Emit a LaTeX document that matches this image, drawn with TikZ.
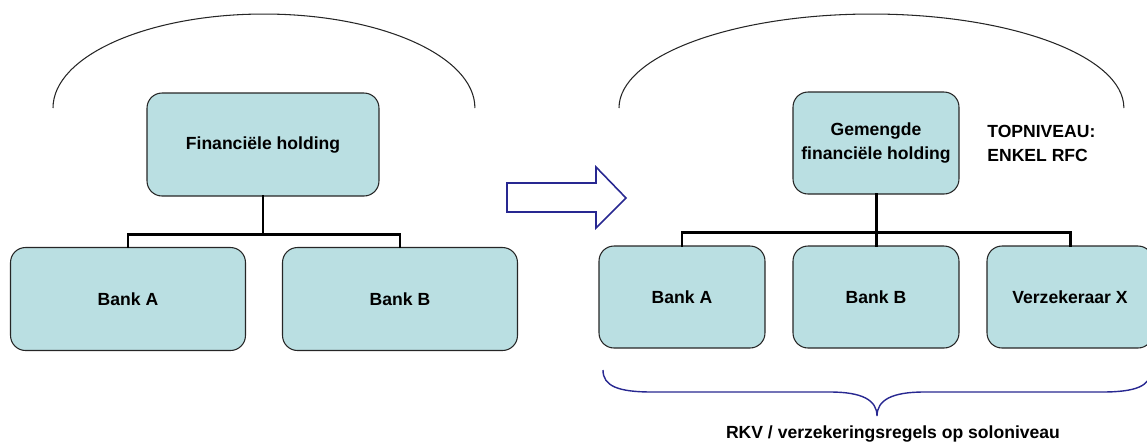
\documentclass[tikz,border=0pt]{standalone}
\usepackage{fontspec}
\setmainfont{Liberation Sans}
\usetikzlibrary{positioning}
\definecolor{boxfill}{RGB}{186,223,226}
\definecolor{navy}{RGB}{40,40,145}
\tikzset{
	entity/.style={draw=black!85, fill=boxfill, rounded corners=0.3cm, line width=0.6pt, align=center, font=\fontsize{10}{13.6}\selectfont\bfseries, inner sep=2pt},
	wide/.style={minimum width=4.7cm, minimum height=2.06cm},
	narrow/.style={minimum width=3.32cm, minimum height=2.04cm},
	link/.style={line width=1.7pt, line cap=rect},
	outline/.style={line width=0.6pt, black!85},
	caption/.style={font=\fontsize{10}{13.6}\selectfont\bfseries, inner sep=0pt}
}

\begin{document}
\begin{tikzpicture}[x=0.02cm, y=-0.02cm]
			\useasboundingbox (0,0) rectangle (1147,441);
			\clip (0,0) rectangle (1147,441);
			% Left structure: financial holding with two banks
			\draw[outline] (53,108) arc[start angle=180, end angle=0, x radius=4.22cm, y radius=1.88cm];
			\node[entity, minimum width=4.64cm, minimum height=2.06cm] (fin) at (263,144.5) {Financiële holding};
			\node[entity, wide] (bankA) at (128,299) {Bank A};
			\node[entity, wide] (bankB) at (400,299) {Bank B};
			\coordinate (lj) at (263,234);
			\draw[link] (fin.south) -- (lj);
			\draw[link] (bankA.north) |- (lj) -| (bankB.north);
			% Transition arrow
			\draw[navy, line width=0.9pt, line join=miter] (507,183) -- (596,183) -- (596,167) -- (626,198) -- (596,228) -- (596,212) -- (507,212) -- cycle;
			% Right structure: mixed financial holding
			\draw[outline] (619,108) arc[start angle=180, end angle=0, x radius=5.05cm, y radius=1.88cm];
			\node[entity, narrow] (gem) at (876,143) {Gemengde\\financiële holding};
			\node[caption, anchor=west, align=left] (top) at (987,143) {TOPNIVEAU:\\ENKEL RFC};
			\node[entity, narrow] (rbankA) at (682,297) {Bank A};
			\node[entity, narrow] (rbankB) at (876,297) {Bank B};
			\node[entity, narrow] (verz) at (1070,297) {Verzekeraar X};
			\coordinate (rj) at (876,232);
			\draw[link] (gem.south) -- (rbankB.north);
			\draw[link] (rbankA.north) |- (rj) -| (verz.north);
			% Brace below the solo entities
			\draw[navy, line width=0.8pt] (603,370) .. controls (603,386) and (618,392) .. (652,392) -- (830,392) .. controls (862,392) and (877,400) .. (877,416) .. controls (877,400) and (892,392) .. (924,392) -- (1102,392) .. controls (1136,392) and (1151,386) .. (1151,370);
			\node[caption, anchor=base] (rules) at (893,438) {RKV / verzekeringsregels op soloniveau};
		\end{tikzpicture}
\end{document}
